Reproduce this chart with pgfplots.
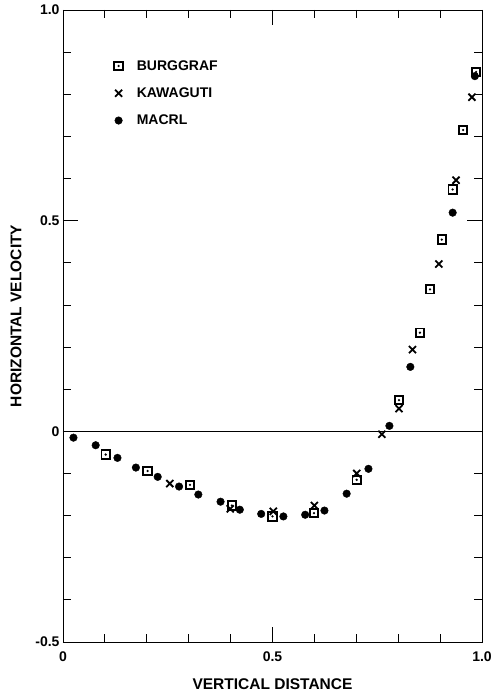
\documentclass[border=0pt]{standalone}
\usepackage{pgfplots}
\pgfplotsset{compat=1.18}
\usepackage{fontspec}
\setmainfont{Liberation Sans}
\pgfdeclareplotmark{sqdot}{%
 \pgfpathrectangle{\pgfpoint{-\pgfplotmarksize}{-\pgfplotmarksize}}{\pgfpoint{2\pgfplotmarksize}{2\pgfplotmarksize}}%
 \pgfusepathqstroke
 \pgfpathcircle{\pgfpointorigin}{0.3\pgfplotmarksize}%
 \pgfusepathqfill}
\begin{document}
\begin{tikzpicture}
\begin{axis}[
 scale only axis, width=419pt, height=632pt,
 xmin=0,xmax=1,ymin=-0.5,ymax=1,
 xtick={0,0.5,1}, xticklabels={0,0.5,1.0},
 ytick={-0.5,0,0.5,1}, yticklabels={-0.5,0,0.5,1.0},
 minor x tick num=4, minor y tick num=4,
 tick align=inside, major tick length=15pt, minor tick length=8pt,
 tick style={black, line width=0.8pt},
 axis line style={line width=0.9pt},
 ticklabel style={font=\fontsize{14}{16}\selectfont\bfseries},
 xticklabel style={yshift=-6pt},
 xlabel={VERTICAL DISTANCE}, ylabel={HORIZONTAL VELOCITY},
 label style={font=\fontsize{15.5}{18}\selectfont\bfseries},
 xlabel style={at={(rel axis cs:0.5,0)}, anchor=center, yshift=-42pt},
 ylabel style={at={(rel axis cs:0,0.5)}, anchor=center, xshift=10pt, yshift=47pt},
 legend style={draw=none, fill=none, at={(rel axis cs:0.115,0.927)}, anchor=north west,
   font=\fontsize{14}{16}\selectfont\bfseries, row sep=12pt},
 legend image code/.code={\draw[mark repeat=2,mark phase=2,#1] plot coordinates {(0cm,0cm) (0.2cm,0cm) (0.8cm,0cm)};},
 legend cell align=left,
]
\addplot[black, line width=0.8pt, forget plot] coordinates {(0,0) (1,0)};
\addplot[only marks, mark=sqdot, mark size=4.2pt, line width=1.9pt, black] coordinates {
(0.102,-0.055) (0.202,-0.094) (0.303,-0.127) (0.403,-0.176) (0.500,-0.202) (0.599,-0.194)
(0.701,-0.115) (0.802,0.074) (0.852,0.234) (0.876,0.337) (0.904,0.455) (0.930,0.574)
(0.955,0.715) (0.986,0.853)};
\addlegendentry{\hspace{12pt}BURGGRAF}
\addplot[only marks, mark=x, mark size=5pt, line width=1.8pt, black] coordinates {
(0.255,-0.124) (0.399,-0.184) (0.502,-0.190) (0.600,-0.176) (0.701,-0.100) (0.761,-0.007)
(0.802,0.054) (0.834,0.194) (0.897,0.397) (0.938,0.596) (0.976,0.793)};
\addlegendentry{\hspace{12pt}KAWAGUTI}
\addplot[only marks, mark=*, mark size=3.8pt, black] coordinates {
(0.025,-0.015) (0.078,-0.033) (0.130,-0.063) (0.174,-0.086) (0.226,-0.108) (0.277,-0.131)
(0.323,-0.150) (0.376,-0.167) (0.422,-0.186) (0.473,-0.196) (0.526,-0.202) (0.578,-0.198)
(0.624,-0.188) (0.677,-0.148) (0.729,-0.089) (0.779,0.013) (0.829,0.153) (0.930,0.519)
(0.983,0.843)};
\addlegendentry{\hspace{12pt}MACRL}
\end{axis}
\pgfresetboundingbox
\path[use as bounding box] ([shift={(-63pt,-52pt)}]current axis.south west) rectangle ([shift={(11pt,10pt)}]current axis.north east);
\end{tikzpicture}
\end{document}
